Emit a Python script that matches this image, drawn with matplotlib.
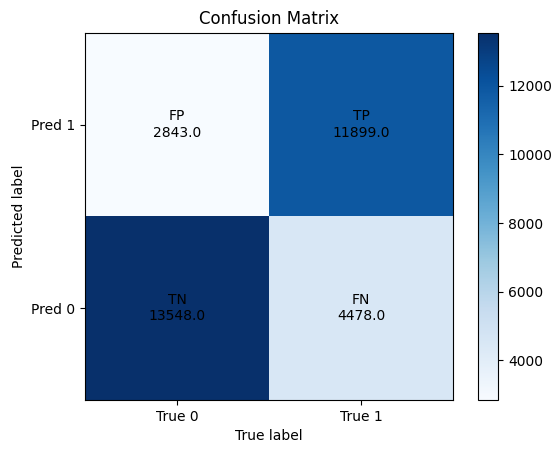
import matplotlib
matplotlib.use("Agg")
import matplotlib.pyplot as plt
import numpy as np

row_labels = ["Pred 1", "Pred 0"]
col_labels = ["True 0", "True 1"]
names = [["FP", "TP"], ["TN", "FN"]]
counts = np.array([[2843.0, 11899.0], [13548.0, 4478.0]])

fig = plt.figure(figsize=(5.6, 4.55), dpi=100)
ax = fig.add_axes([0.152, 0.121, 0.657, 0.807])
im = ax.imshow(counts, cmap="Blues", aspect="auto")
cax = fig.add_axes([0.854, 0.121, 0.036, 0.807])
fig.colorbar(im, cax=cax)

for i in range(2):
    for j in range(2):
        ax.text(j, i, f"{names[i][j]}\n{counts[i, j]}", ha="center", va="center")

ax.set_xticks(range(2))
ax.set_xticklabels(col_labels)
ax.set_yticks(range(2))
ax.set_yticklabels(row_labels)
ax.set_xlabel("True label")
ax.set_ylabel("Predicted label")
ax.set_title("Confusion Matrix")

fig.savefig("out.png")
